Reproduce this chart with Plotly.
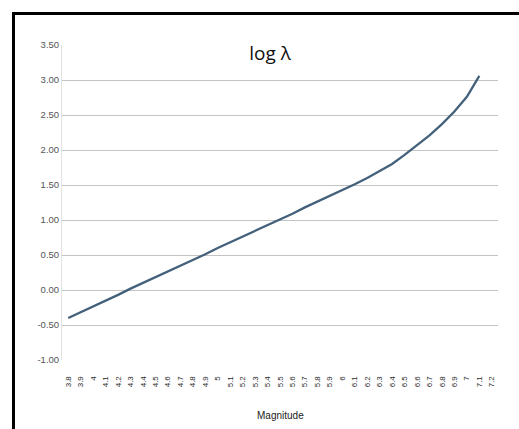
import plotly.graph_objects as go

# Data
magnitudes = [round(3.8 + 0.1 * i, 1) for i in range(35)]
categories = [("%g" % m) for m in magnitudes]
log_lambda = [-0.40, -0.32, -0.23, -0.15, -0.07, 0.02, 0.10, 0.18, 0.26, 0.35,
              0.43, 0.51, 0.60, 0.68, 0.76, 0.85, 0.93, 1.01, 1.09, 1.18,
              1.26, 1.34, 1.43, 1.51, 1.60, 1.70, 1.80, 1.93, 2.07, 2.21,
              2.37, 2.55, 2.76, 3.06, None]
y_ticks = [-1.0, -0.5, 0.0, 0.5, 1.0, 1.5, 2.0, 2.5, 3.0, 3.5]
y_labels = ["%.2f" % v for v in y_ticks]

W, H = 519, 429
L, R, T, B = 62, 21, 45, 69

fig = go.Figure()
fig.add_trace(go.Scatter(
    x=categories, y=log_lambda, mode="lines",
    line=dict(color="#44617b", width=2.3),
    connectgaps=False, hoverinfo="skip", showlegend=False,
))

def px_x(p):
    return (p - L) / (W - L - R)

def px_y(p):
    return (H - B - p) / (H - T - B)

fig.update_layout(
    width=W, height=H,
    margin=dict(l=L, r=R, t=T, b=B, pad=0, autoexpand=False),
    paper_bgcolor="white", plot_bgcolor="white",
    title=dict(text="log λ", x=270 / W, xanchor="center",
               y=1 - 53 / H, yanchor="middle",
               font=dict(family="Open Sans", size=19, color="#111111")),
    xaxis=dict(
        type="category", tickangle=-90, showgrid=False, automargin=False,
        tickfont=dict(family="Liberation Sans", size=8, color="#2a2a2a"),
        ticks="outside", ticklen=12, tickcolor="rgba(0,0,0,0)",
        showline=False, zeroline=False,
        range=[-0.5, len(categories) - 0.5],
    ),
    yaxis=dict(
        range=[-1.0, 3.5], tickvals=y_ticks, ticktext=y_labels, automargin=False,
        showgrid=True, gridcolor="#c4c4c4", gridwidth=1,
        zeroline=False, showline=True, linecolor="#e2e2e2", linewidth=1,
        ticks="", ticklen=0,
        tickfont=dict(family="Liberation Sans", size=9.5, color="#555555"),
    ),
    annotations=[
        dict(text="Magnitude", xref="paper", yref="paper",
             x=px_x(280), y=px_y(415), xanchor="center", yanchor="middle",
             showarrow=False,
             font=dict(family="Liberation Sans", size=10, color="#222222")),
    ],
    shapes=[
        dict(type="line", xref="paper", yref="paper",
             x0=px_x(13.5), x1=px_x(519), y0=px_y(13.5), y1=px_y(13.5),
             line=dict(color="black", width=3)),
        dict(type="line", xref="paper", yref="paper",
             x0=px_x(13.5), x1=px_x(13.5), y0=px_y(12), y1=px_y(429),
             line=dict(color="black", width=3)),
    ],
)

fig.write_html("out.html", config={"displayModeBar": False},
               post_script="document.body.style.margin='0';document.body.style.overflow='hidden';")
